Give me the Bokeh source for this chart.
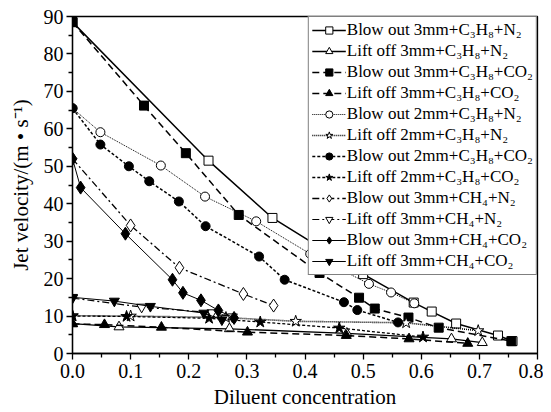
from bokeh.plotting import figure
from bokeh.models import Range1d, Legend, LegendItem, FixedTicker
from bokeh.embed import file_html
from bokeh.resources import INLINE

# ---- data ----
x_bo3_c3h8_n2 = [0, 0.234, 0.344, 0.50, 0.587, 0.618, 0.66, 0.732, 0.757]
y_bo3_c3h8_n2 = [88.5, 51.5, 36.2, 21.2, 13.6, 11.2, 8.0, 4.8, 3.3]

x_lo3_c3h8_n2 = [0, 0.08, 0.27, 0.472, 0.652, 0.705]
y_lo3_c3h8_n2 = [8.0, 7.1, 6.6, 5.4, 3.9, 2.9]

x_bo3_c3h8_co2 = [0, 0.123, 0.195, 0.286, 0.425, 0.493, 0.52, 0.578, 0.63, 0.755]
y_bo3_c3h8_co2 = [88.5, 66.2, 53.5, 37.0, 21.5, 14.9, 12.0, 9.6, 6.9, 3.3]

x_lo3_c3h8_co2 = [0, 0.055, 0.153, 0.301, 0.471, 0.579, 0.68]
y_lo3_c3h8_co2 = [7.9, 7.7, 7.0, 5.7, 4.8, 3.9, 2.7]

x_bo2_c3h8_n2 = [0, 0.048, 0.152, 0.228, 0.316, 0.409, 0.51, 0.548, 0.588]
y_bo2_c3h8_n2 = [65.5, 59.1, 50.2, 41.9, 35.3, 26.6, 18.6, 16.3, 13.4]

x_lo2_c3h8_n2 = [0, 0.10, 0.264, 0.384, 0.574, 0.698]
y_lo2_c3h8_n2 = [10.1, 10.0, 9.6, 8.6, 8.2, 6.1]

x_bo2_c3h8_co2 = [0, 0.048, 0.097, 0.132, 0.183, 0.229, 0.321, 0.365, 0.467, 0.49, 0.56]
y_bo2_c3h8_co2 = [65.5, 55.8, 50.0, 46.0, 40.6, 34.0, 25.9, 19.7, 13.7, 11.6, 8.3]

x_lo2_c3h8_co2 = [0, 0.093, 0.235, 0.323, 0.459, 0.603]
y_lo2_c3h8_co2 = [10.0, 9.9, 9.4, 8.4, 6.8, 4.4]

x_bo3_ch4_n2 = [0, 0.10, 0.184, 0.294, 0.346]
y_bo3_ch4_n2 = [52.0, 34.2, 22.9, 15.9, 12.8]

x_lo3_ch4_n2 = [0, 0.119, 0.24, 0.275]
y_lo3_ch4_n2 = [14.8, 12.4, 10.9, 9.8]

x_bo3_ch4_co2 = [0, 0.014, 0.091, 0.172, 0.19, 0.221, 0.251, 0.278]
y_bo3_ch4_co2 = [52.0, 44.3, 32.0, 19.7, 16.2, 14.2, 11.5, 9.5]

x_lo3_ch4_co2 = [0, 0.072, 0.134, 0.226, 0.257]
y_lo3_ch4_co2 = [15.0, 14.0, 12.6, 10.8, 9.0]

labels = [
    "Blow out 3mm+C\u2083H\u2088+N\u2082",
    "Lift off 3mm+C\u2083H\u2088+N\u2082",
    "Blow out 3mm+C\u2083H\u2088+CO\u2082",
    "Lift off 3mm+C\u2083H\u2088+CO\u2082",
    "Blow out 2mm+C\u2083H\u2088+N\u2082",
    "Lift off 2mm+C\u2083H\u2088+N\u2082",
    "Blow out 2mm+C\u2083H\u2088+CO\u2082",
    "Lift off 2mm+C\u2083H\u2088+CO\u2082",
    "Blow out 3mm+CH\u2084+N\u2082",
    "Lift off 3mm+CH\u2084+N\u2082",
    "Blow out 3mm+CH\u2084+CO\u2082",
    "Lift off 3mm+CH\u2084+CO\u2082",
]
x_ticks = [0.0, 0.1, 0.2, 0.3, 0.4, 0.5, 0.6, 0.7, 0.8]
y_ticks = [0, 10, 20, 30, 40, 50, 60, 70, 80, 90]

series = [
    (x_bo3_c3h8_n2, y_bo3_c3h8_n2),
    (x_lo3_c3h8_n2, y_lo3_c3h8_n2),
    (x_bo3_c3h8_co2, y_bo3_c3h8_co2),
    (x_lo3_c3h8_co2, y_lo3_c3h8_co2),
    (x_bo2_c3h8_n2, y_bo2_c3h8_n2),
    (x_lo2_c3h8_n2, y_lo2_c3h8_n2),
    (x_bo2_c3h8_co2, y_bo2_c3h8_co2),
    (x_lo2_c3h8_co2, y_lo2_c3h8_co2),
    (x_bo3_ch4_n2, y_bo3_ch4_n2),
    (x_lo3_ch4_n2, y_lo3_ch4_n2),
    (x_bo3_ch4_co2, y_bo3_ch4_co2),
    (x_lo3_ch4_co2, y_lo3_ch4_co2),
]

# styles: (line_dash, line_width, marker, size, filled)
styles = [
    ("solid", 1.5, "square", 9, False),
    ("solid", 1.3, "triangle", 10, False),
    ("7 4", 1.5, "square", 9, True),
    ("7 4", 1.5, "triangle", 10, True),
    ("1 1", 1.0, "circle", 9, False),
    ("1 1", 1.6, "star", 12, False),
    ("3 2", 1.5, "circle", 9, True),
    ("3 2", 1.3, "star", 12, True),
    ("7 3 2 3", 1.3, "diamond", 13, False),
    ("7 3 2 3", 1.2, "inverted_triangle", 10, False),
    ("solid", 1.0, "diamond", 13, True),
    ("solid", 1.0, "inverted_triangle", 10, True),
]

FONT = "Liberation Serif"

p = figure(frame_width=465, frame_height=337, output_backend="svg",
           toolbar_location=None, x_range=Range1d(0, 0.8), y_range=Range1d(0, 90),
           min_border_left=72, min_border_right=6, min_border_top=16, min_border_bottom=51)
p.background_fill_color = "white"
p.border_fill_color = "white"
p.outline_line_color = "black"
p.outline_line_width = 1.3
p.xgrid.visible = False
p.ygrid.visible = False

items = []
for (xs, ys), (dash, lw, mk, sz, filled), lab in zip(series, styles, labels):
    r1 = p.line(xs, ys, line_color="black", line_width=lw, line_dash=dash)
    r2 = p.scatter(xs, ys, marker=mk, size=sz, line_color="black", line_width=1.0,
                   fill_color="black" if filled else "white")
    items.append(LegendItem(label=lab, renderers=[r1, r2]))

for ax in (p.xaxis[0], p.yaxis[0]):
    ax.axis_line_width = 1.3
    ax.major_tick_line_width = 1.3
    ax.minor_tick_line_width = 1.3
    ax.major_tick_in = 0
    ax.major_tick_out = 6
    ax.minor_tick_in = 0
    ax.minor_tick_out = 4
    ax.major_label_text_font = FONT
    ax.major_label_text_font_size = "20px"
    ax.major_label_text_color = "black"
    ax.axis_label_text_font = FONT
    ax.axis_label_text_font_size = "21px"
    ax.axis_label_text_font_style = "normal"
    ax.axis_label_text_color = "black"

p.xaxis.ticker = FixedTicker(ticks=x_ticks, minor_ticks=[0.05 + 0.1 * i for i in range(8)])
p.yaxis.ticker = FixedTicker(ticks=y_ticks, minor_ticks=[5 + 10 * i for i in range(9)])
p.xaxis.major_label_overrides = {t: f"{t:.1f}" for t in x_ticks}
p.xaxis.axis_label = "Diluent concentration"
p.yaxis.axis_label = "Jet velocity/(m \u2022 s\u207b\u00b9)"
p.xaxis.major_label_standoff = 4
p.yaxis.major_label_standoff = 3
p.xaxis.axis_label_standoff = 4
p.yaxis.axis_label_standoff = 8

legend = Legend(items=items, location="top_right")
legend.label_text_font = FONT
legend.label_text_font_size = "17px"
legend.label_text_color = "black"
legend.border_line_color = "black"
legend.border_line_width = 1.0
legend.background_fill_alpha = 1.0
legend.glyph_width = 34
legend.glyph_height = 18
legend.label_height = 18
legend.label_standoff = 1
legend.spacing = 1
legend.padding = 3
legend.margin = 0
p.add_layout(legend)

open("out.html", "w").write(file_html(p, INLINE))
